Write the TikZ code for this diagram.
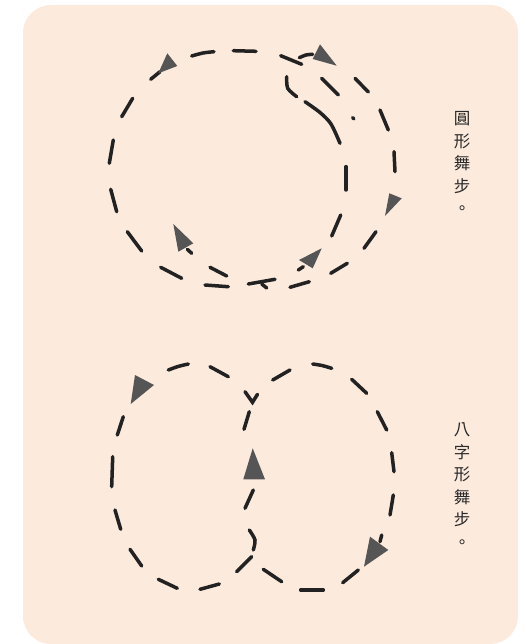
\documentclass[tikz,border=0pt]{standalone}
\usepackage{fontspec}
\newfontfamily\cjk{Noto Sans CJK TC}
\definecolor{bgc}{HTML}{FCEADD}
\definecolor{ink}{HTML}{222222}
\definecolor{headc}{HTML}{555555}
\definecolor{txt}{HTML}{2A2A2A}
\begin{document}
\begin{tikzpicture}[x=1pt,y=-1pt,
  ds/.style={draw=ink,line width=3.5pt,line cap=round},
  tri/.style={fill=headc},
  coltext/.style={align=center,text=txt,inner sep=0pt,font=\cjk\fontsize{16.5}{22.5}\selectfont}]
\useasboundingbox (0,0) rectangle (526,644);
\fill[bgc,rounded corners=28pt] (23,5) rectangle (518,644);

% ---------- top: circular dance ----------
\draw[ds] (150.7,79.3) -- (160,71.7);
\draw[ds] plot[smooth] coordinates {(191.7,56) (203,53) (214,51.7)};
\draw[ds] (233.3,50.7) -- (256,51.3);
\draw[ds] (280.7,55.7) -- (301.7,64.3);
\draw[ds] plot[smooth] coordinates {(299.3,57.7) (306,55) (312.7,54.3)};
\draw[ds] plot[smooth] coordinates {(286.7,76.7) (287.7,88.3) (296.7,96.7)};
\draw[ds] plot[smooth] coordinates {(305,101.7) (320,112.5) (331,124) (340,143.3)};
\draw[ds] (321.7,78.3) -- (338.3,95);
\draw[ds] (352.6,117.6) -- (354,119);
\draw[ds] (355,78.3) -- (368.3,92);
\draw[ds] (380,110) -- (388.3,130);
\draw[ds] (394,151.7) -- (395,171.7);
\draw[ds] (346,166.7) -- (346,190);
\draw[ds] (340.7,215) -- (331.7,236);
\draw[ds] (376,231.7) -- (364,248.3);
\draw[ds] (347.3,263.3) -- (330.7,273.3);
\draw[ds] (309.3,281.7) -- (290,287.3);
\draw[ds] (275,279.3) -- (248.3,284);
\draw[ds] (261.7,284) -- (266.7,288);
\draw[ds] (228.3,286.7) -- (205,285);
\draw[ds] (226.7,276) -- (210,267.3);
\draw[ds] (181.7,278.3) -- (160.7,267.3);
\draw[ds] (141.7,251) -- (127.3,231.7);
\draw[ds] (116.7,211.7) -- (110.7,189.3);
\draw[ds] (109.3,163.3) -- (113.3,140);
\draw[ds] (121.7,116.7) -- (132.7,98.3);
\draw[ds] (298.3,270) -- (303.3,266.7);
\draw[ds] (187.3,249.3) -- (191.7,253.3);
\fill[tri] (167.3,53.3) -- (177.3,66) -- (158.3,73.3) -- cycle;
\fill[tri] (320,44.3) -- (336.7,65.7) -- (312.7,59) -- cycle;
\fill[tri] (389.3,193.3) -- (401.7,198.3) -- (385,216) -- cycle;
\fill[tri] (321.7,248.3) -- (299,260) -- (312.7,268.3) -- cycle;
\fill[tri] (173.3,224) -- (193.3,243.3) -- (178.3,251.7) -- cycle;

% ---------- bottom: figure-eight dance ----------
\draw[ds] plot[smooth] coordinates {(168.3,370) (178,366.5) (188.3,364)};
\draw[ds] (210,366.7) -- (228.3,376.7);
\draw[ds] (245,391.7) -- (252.5,402.3) -- (257.5,394.3);
\draw[ds] (249.3,411.7) -- (244,429.3);
\fill[tri] (252.7,448.3) -- (243.3,479.3) -- (265,479.3) -- cycle;
\draw[ds] (253.3,490) -- (245,508.3);
\draw[ds] plot[smooth] coordinates {(249.3,530) (255,540) (253.3,550)};
\draw[ds] (251.7,556.7) -- (236.7,571.7);
\draw[ds] (219.3,584) -- (200,589.3);
\draw[ds] (177.3,588.3) -- (158.3,579.3);
\draw[ds] (141.7,566) -- (130,549.3);
\draw[ds] (120.7,529.3) -- (115,510);
\draw[ds] (111.7,486.7) -- (112.7,456.7);
\draw[ds] (117.3,435) -- (123.3,416.7);
\fill[tri] (135,375) -- (154,385) -- (130.7,404) -- cycle;
\draw[ds] (272.7,380) -- (290,370);
\draw[ds] plot[smooth] coordinates {(312.7,364) (322,365.5) (331.7,368.3)};
\draw[ds] (351.7,379.3) -- (366.7,393.3);
\draw[ds] (377.3,411.7) -- (386.7,430);
\draw[ds] (391.7,452.7) -- (394,471.7);
\draw[ds] (393.3,495) -- (390,515);
\draw[ds] (381.7,535) -- (380,541.7);
\fill[tri] (370,536.7) -- (388.3,550) -- (364,566.7) -- cycle;
\draw[ds] (358.3,570) -- (342.7,582.7);
\draw[ds] (323.3,590) -- (300.7,590);
\draw[ds] (281.7,581.7) -- (263.3,569.3);

% ---------- captions ----------
\node[coltext] (cap1) at (462,163) {圓\\形\\舞\\步\\。};
\node[coltext] (cap2) at (462,485.5) {八\\字\\形\\舞\\步\\。};
\end{tikzpicture}
\end{document}
